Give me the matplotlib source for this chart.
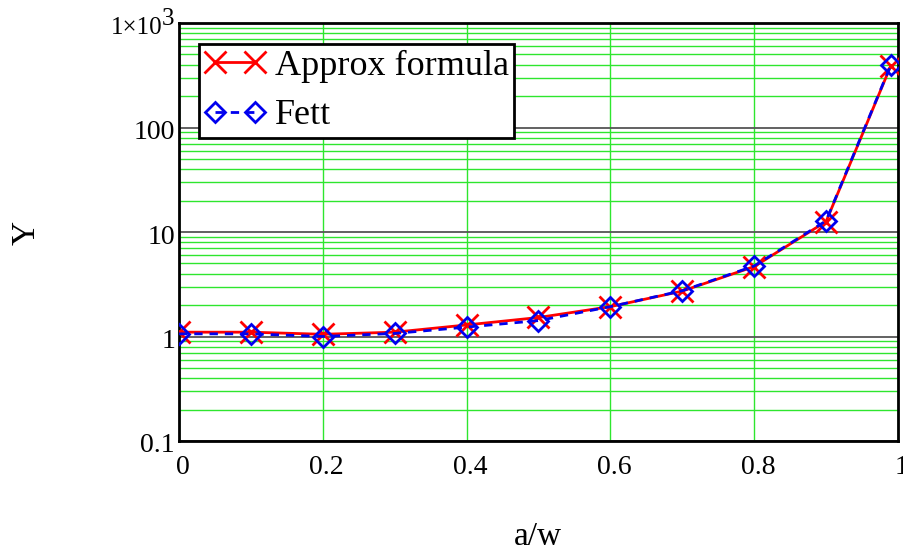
import matplotlib
matplotlib.use("Agg")
import matplotlib.pyplot as plt
from matplotlib.ticker import FixedLocator, NullFormatter
from matplotlib.transforms import ScaledTranslation, blended_transform_factory

plt.rcParams['font.family'] = ['Liberation Serif', 'DejaVu Serif']

# crack geometry ratio and geometry factor
a_w = [0.0, 0.1, 0.2, 0.3, 0.4, 0.5, 0.6, 0.7, 0.8, 0.9, 0.99]
y_approx = [1.10, 1.10, 1.05, 1.10, 1.29, 1.52, 1.93, 2.72, 4.67, 12.6, 390.0]
y_fett = [1.06, 1.06, 1.00, 1.07, 1.23, 1.42, 1.93, 2.74, 4.73, 12.8, 396.0]

x_ticks = [0, 0.2, 0.4, 0.6, 0.8, 1.0]
x_tick_labels = ["0", "0.2", "0.4", "0.6", "0.8", "1"]
y_ticks = [0.1, 1, 10, 100, 1000]
y_tick_labels = ["0.1", "1", "10", "100", "1\u00d710"]
top_exponent = "3"

fig = plt.figure(figsize=(9.04, 5.52), dpi=100)
ax = fig.add_axes([179 / 904, 1 - 441 / 552, (898 - 179) / 904, (441 - 23) / 552])

ax.set_yscale('log')
ax.set_xlim(0, 1)
ax.set_ylim(0.1, 1000)

# grid: green minor lines, dark decade lines, green verticals
minor = [m * 10.0 ** e for e in range(-1, 3) for m in range(2, 10)]
ax.yaxis.set_minor_locator(FixedLocator(minor))
ax.yaxis.set_minor_formatter(NullFormatter())
ax.grid(True, which='minor', axis='y', color='#2ee62e', lw=1.0)
ax.grid(True, which='major', axis='y', color='#555555', lw=1.3)
ax.grid(True, which='major', axis='x', color='#2ee62e', lw=1.0)
ax.set_axisbelow(True)

ax.plot(a_w, y_approx, color='#ff0000', lw=2, marker='x', ms=16, mew=2,
        label='Approx formula', zorder=3)
ax.plot(a_w, y_fett, color='#0000ee', lw=2, ls=(0, (3, 2.5)), marker='D', ms=10,
        mfc='none', mec='#0000ee', mew=2, label='Fett', zorder=4)

ax.set_xticks(x_ticks)
ax.set_xticklabels(x_tick_labels)
ax.set_yticks(y_ticks)
ax.set_yticklabels([])
ax.tick_params(axis='both', which='both', length=0, labelsize=20)
ax.tick_params(axis='x', pad=10)

# x labels sit slightly right of their grid lines
shift_x = ScaledTranslation(4 / 100, 0, fig.dpi_scale_trans)
for lbl in ax.get_xticklabels():
    lbl.set_transform(lbl.get_transform() + shift_x)

# y labels drawn just left of the frame, slightly below each decade line
ytrans = blended_transform_factory(ax.transAxes, ax.transData) + \
    ScaledTranslation(-4 / 100, -5 / 100, fig.dpi_scale_trans)
for yv, txt in zip(y_ticks, y_tick_labels):
    if yv == y_ticks[-1]:
        ax.text(0, yv, txt, transform=ytrans + ScaledTranslation(-13 / 100, 0, fig.dpi_scale_trans),
                ha='right', va='center', fontsize=18, clip_on=False)
        ax.text(0, yv, top_exponent,
                transform=ytrans + ScaledTranslation(-1 / 100, 9 / 100, fig.dpi_scale_trans),
                ha='right', va='center', fontsize=18, clip_on=False)
    else:
        ax.text(0, yv, txt, transform=ytrans, ha='right', va='center',
                fontsize=20, clip_on=False)

for s in ax.spines.values():
    s.set_linewidth(2)
    s.set_color('black')

fig.text(26 / 904, 1 - 233 / 552, 'Y', fontsize=24, ha='center', va='center', rotation=90)
fig.text(538 / 904, 1 - 537 / 552, 'a/w', fontsize=24, ha='center', va='center')

leg = ax.legend(loc='upper left', bbox_to_anchor=((199 - 179) / 719, (441 - 44) / 418),
                borderaxespad=0, fontsize=26, numpoints=2, handlelength=1.7,
                handletextpad=0.25, borderpad=0.15, labelspacing=0.45,
                fancybox=False, framealpha=1, edgecolor='black')
leg.get_frame().set_linewidth(2)

fig.savefig('out.png', dpi=100)
